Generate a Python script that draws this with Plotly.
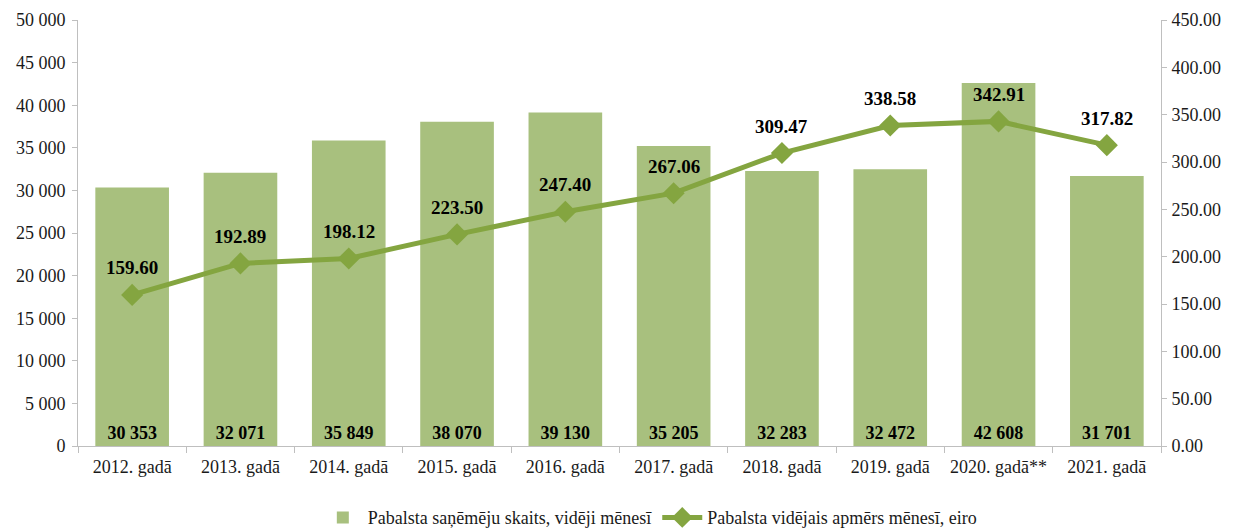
import plotly.graph_objects as go

years = ["2012. gadā", "2013. gadā", "2014. gadā", "2015. gadā", "2016. gadā",
         "2017. gadā", "2018. gadā", "2019. gadā", "2020. gadā**", "2021. gadā"]
recipients = [30353, 32071, 35849, 38070, 39130, 35205, 32283, 32472, 42608, 31701]
avg_amount = [159.60, 192.89, 198.12, 223.50, 247.40, 267.06, 309.47, 338.58, 342.91, 317.82]

FONT = "Liberation Serif"
LINE_COLOR = "#84a540"
TXT = "#1a1a1a"

fig = go.Figure()
fig.add_trace(go.Bar(
    x=years, y=recipients, name="Pabalsta saņēmēju skaits, vidēji mēnesī",
    marker=dict(color="#a8c07e", line=dict(width=0)),
    texttemplate="%{y:,d}", textposition="inside", insidetextanchor="start",
    textfont=dict(family=FONT, size=18, color="black", weight="bold"),
    textangle=0, yaxis="y",
))
fig.add_trace(go.Scatter(
    x=years, y=avg_amount, name="Pabalsta vidējais apmērs mēnesī, eiro",
    mode="lines+markers",
    line=dict(color=LINE_COLOR, width=5),
    marker=dict(symbol="diamond", size=17, color=LINE_COLOR),
    yaxis="y2",
))

for yr, v in zip(years, avg_amount):
    fig.add_annotation(x=yr, y=v, xref="x", yref="y2", text=f"{v:.2f}",
                       showarrow=False, yshift=27,
                       font=dict(family=FONT, size=19, color="black", weight="bold"))

fig.update_layout(
    width=1226, height=521,
    margin=dict(l=70, r=73, t=12, b=83, autoexpand=False),
    paper_bgcolor="white", plot_bgcolor="white",
    separators=". ",
    font=dict(family=FONT, size=18, color=TXT),
    bargap=0.32,
    showlegend=True,
    legend=dict(orientation="h", x=0.528, xanchor="center", y=-0.125, yanchor="top",
                font=dict(family=FONT, size=18, color=TXT),
                traceorder="normal", itemwidth=40),
    xaxis=dict(range=[-0.5, len(years) - 0.5], autorange=False,
               showline=True, linecolor="#bfbfbf", linewidth=1, ticks="outside",
               tickson="boundaries", ticklen=6, tickcolor="#bfbfbf", tickangle=0,
               ticklabelstandoff=4, showgrid=False, automargin=False,
               tickfont=dict(family=FONT, size=18, color=TXT)),
    yaxis=dict(range=[0, 50000], dtick=5000, tickformat=",d", showline=True,
               linecolor="#bfbfbf", ticks="outside", ticklen=5, tickcolor="#bfbfbf",
               ticklabelstandoff=3, showgrid=False, zeroline=False, automargin=False,
               tickfont=dict(family=FONT, size=18, color=TXT)),
    yaxis2=dict(range=[0, 450], dtick=50, tickformat=".2f", overlaying="y", side="right",
                showline=True, linecolor="#bfbfbf", ticks="outside", ticklen=5,
                tickcolor="#bfbfbf", ticklabelstandoff=1, showgrid=False, zeroline=False,
                automargin=False, tickfont=dict(family=FONT, size=18, color=TXT)),
)

fig.write_html("out.html")
